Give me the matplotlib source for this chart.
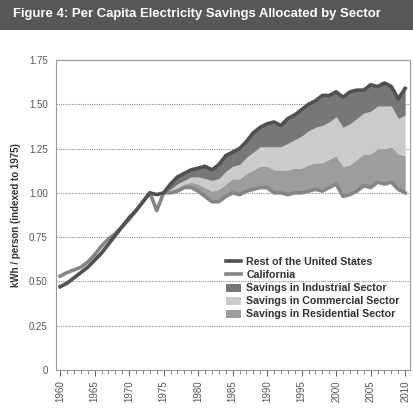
#!/usr/bin/env python3
# Per capita electricity savings allocated by sector (CA vs rest of US)

import numpy as np
import matplotlib
matplotlib.use("Agg")
import matplotlib.pyplot as plt
from matplotlib.patches import Rectangle, Patch
from matplotlib.lines import Line2D

# -----------------------------
# Data
# -----------------------------
years = np.arange(1960, 2011)

rest_of_us = np.array([
    0.47, 0.49, 0.52, 0.55, 0.58, 0.62, 0.66, 0.71, 0.76, 0.81,
    0.86, 0.90, 0.95, 1.00, 0.99, 1.00, 1.05, 1.09, 1.11, 1.13,
    1.14, 1.15, 1.13, 1.16, 1.21, 1.23, 1.25, 1.29, 1.34, 1.37,
    1.39, 1.40, 1.38, 1.42, 1.44, 1.47, 1.50, 1.52, 1.55, 1.55,
    1.57, 1.54, 1.57, 1.58, 1.58, 1.61, 1.60, 1.62, 1.60, 1.53,
    1.59,
])

california = np.array([
    0.53, 0.55, 0.565, 0.58, 0.61, 0.65, 0.70, 0.74, 0.77, 0.81,
    0.85, 0.90, 0.95, 1.00, 0.90, 1.00, 1.00, 1.01, 1.03, 1.03,
    1.01, 0.98, 0.95, 0.95, 0.98, 1.00, 0.99, 1.01, 1.02, 1.03,
    1.03, 1.00, 1.00, 0.99, 1.00, 1.00, 1.01, 1.02, 1.01, 1.03,
    1.05, 0.98, 0.99, 1.01, 1.04, 1.03, 1.06, 1.05, 1.06, 1.02,
    1.00,
])

# savings bands start in 1975
band_years = np.arange(1975, 2011)
residential = np.array([
    0.00, 0.01, 0.02, 0.02, 0.03, 0.04, 0.05, 0.06, 0.07, 0.07,
    0.08, 0.09, 0.10, 0.11, 0.12, 0.12, 0.13, 0.13, 0.14, 0.14,
    0.14, 0.15, 0.15, 0.16, 0.16, 0.16, 0.17, 0.17, 0.18, 0.18,
    0.19, 0.19, 0.20, 0.20, 0.20, 0.21,
])
commercial = np.array([
    0.00, 0.01, 0.02, 0.02, 0.03, 0.04, 0.05, 0.06, 0.06, 0.07,
    0.07, 0.08, 0.09, 0.10, 0.11, 0.11, 0.13, 0.13, 0.15, 0.16,
    0.18, 0.19, 0.20, 0.21, 0.21, 0.22, 0.22, 0.23, 0.23, 0.23,
    0.24, 0.24, 0.24, 0.23, 0.20, 0.23,
])

# -----------------------------
# Figure
# -----------------------------
plt.rcParams["font.family"] = ["Liberation Sans", "DejaVu Sans"]

fig = plt.figure(figsize=(4.14, 4.13), dpi=100)

# title bar
fig.patches.append(Rectangle((0, 1 - 30 / 413), 1, 30 / 413,
                             transform=fig.transFigure,
                             facecolor="#575757", edgecolor="none"))
fig.text(13 / 414, 1 - 13.5 / 413,
         "Figure 4: Per Capita Electricity Savings Allocated by Sector",
         color="white", fontsize=9.45, fontweight="bold", va="center", ha="left")

ax = fig.add_axes([56 / 414, 1 - 370 / 413, 354 / 414, 310 / 413])

# stacked savings between California and rest of US
ca_b = california[years >= 1975]
us_b = rest_of_us[years >= 1975]
res_top = ca_b + residential
com_top = res_top + commercial

ax.fill_between(band_years, ca_b, res_top, color="#9d9d9d", lw=0, zorder=2)
ax.fill_between(band_years, res_top, com_top, color="#cbcbcb", lw=0, zorder=2)
ax.fill_between(band_years, com_top, us_b, color="#777777", lw=0, zorder=2)

ax.plot(years, rest_of_us, color="#505050", lw=2.6, zorder=4,
        solid_joinstyle="round")
ax.plot(years, california, color="#858585", lw=2.6, zorder=3,
        solid_joinstyle="round")

# -----------------------------
# Formatting
# -----------------------------
ax.set_xlim(1959.4, 2010.7)
ax.set_ylim(0, 1.75)
ax.set_yticks([0, 0.25, 0.5, 0.75, 1.0, 1.25, 1.5, 1.75])
ax.set_yticklabels(["0", "0.25", "0.50", "0.75", "1.00", "1.25", "1.50", "1.75"])
ax.set_xticks(np.arange(1960, 2011, 5))
ax.set_xticks(years, minor=True)
ax.tick_params(axis="x", which="major", labelrotation=90, labelsize=7,
               colors="#444444", length=4, width=0.6, direction="out")
ax.tick_params(axis="x", which="minor", length=3, width=0.6,
               color="#777777", direction="out")
ax.tick_params(axis="y", labelsize=7, colors="#444444", length=0, pad=6)
for lab in ax.get_xticklabels() + ax.get_yticklabels():
    lab.set_color("#555555")

ax.grid(True, axis="y", linestyle=(0, (1, 1)), color="#8a8a8a", lw=0.8, zorder=1)
for s in ax.spines.values():
    s.set_color("#999999")
    s.set_linewidth(0.8)
ax.spines["top"].set_linestyle((0, (1, 1)))

ax.set_ylabel("kWh / person (indexed to 1975)", fontsize=7, fontweight="bold",
              color="#333333", labelpad=6)

handles = [
    Line2D([], [], color="#505050", lw=2.6),
    Line2D([], [], color="#858585", lw=2.6),
    Patch(facecolor="#777777", edgecolor="none"),
    Patch(facecolor="#cbcbcb", edgecolor="none"),
    Patch(facecolor="#9d9d9d", edgecolor="none"),
]
labels = [
    "Rest of the United States",
    "California",
    "Savings in Industrial Sector",
    "Savings in Commercial Sector",
    "Savings in Residential Sector",
]
leg = ax.legend(handles, labels, loc="upper left",
                bbox_to_anchor=(165 / 354, 118 / 310), frameon=False,
                fontsize=7.7, handlelength=1.4, handleheight=0.8,
                handletextpad=0.45, labelspacing=0.28, borderpad=0)
for t in leg.get_texts():
    t.set_fontweight("bold")
    t.set_color("#333333")

fig.savefig("out.png", dpi=100)
